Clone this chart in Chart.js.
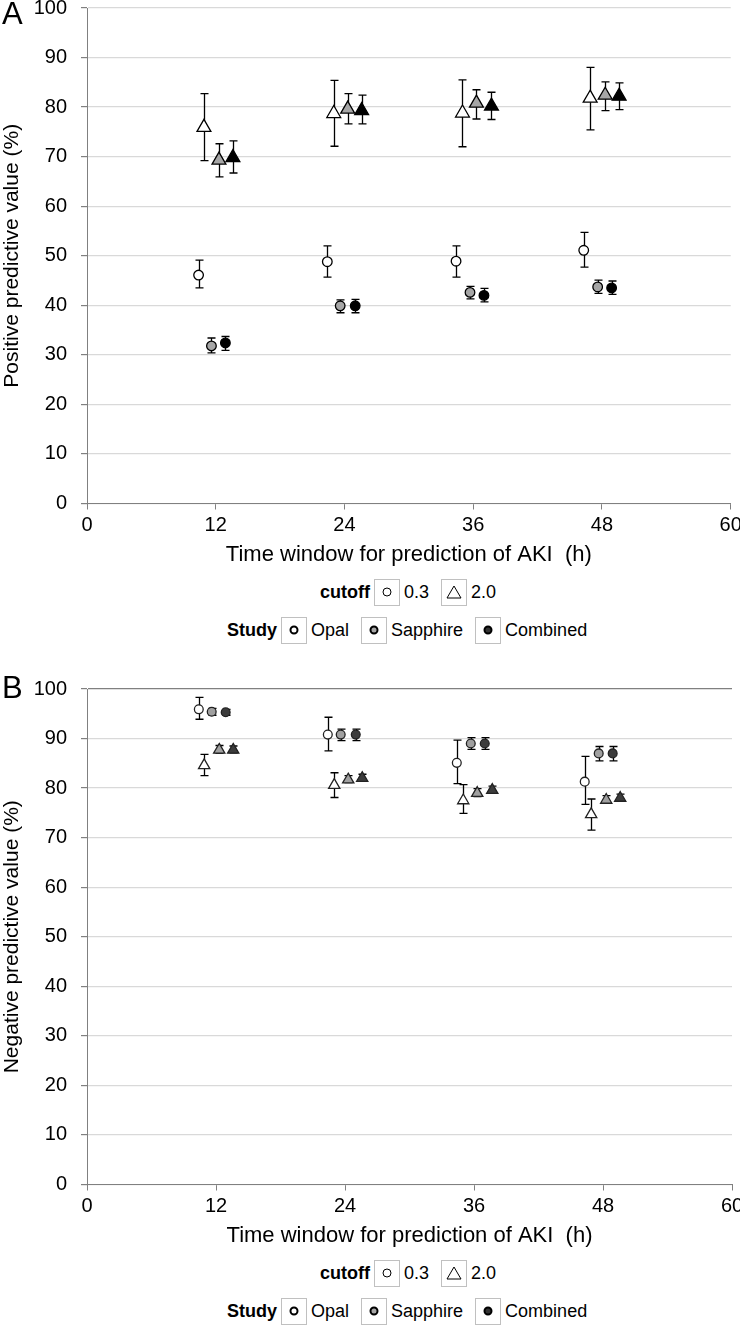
<!DOCTYPE html>
<html>
<head>
<meta charset="utf-8">
<script src="https://cdn.jsdelivr.net/npm/chart.js@4.4.1/dist/chart.umd.min.js"></script>
<style>
  body { margin: 0; background: #fff; font-family: "Liberation Sans", Arial, sans-serif; }
  #wrap { position: relative; width: 740px; height: 1335px; overflow: hidden; }
  canvas { position: absolute; left: 0; }
  .letter { position: absolute; left: 2px; font-size: 31px; color: #000; z-index: 2; }
  .row { position: absolute; height: 26px; display: flex; align-items: center; font-size: 18px; color: #000; }
  .row b { margin-right: 4px; }
  .box { width: 24px; height: 25px; border: 1px solid #c0c0c0; display: flex; align-items: center; justify-content: center; margin-right: 4px; }
  .row span.t { margin-right: 12px; }
</style>
</head>
<body>
<div id="wrap">
  <div class="letter" style="top:-4px">A</div>
  <canvas id="ppv" width="740" height="586" style="top:-11.5px"></canvas>
  <div class="row" style="left:320px;top:579px">
    <b>cutoff</b>
    <div class="box"><svg width="12" height="12"><circle cx="6" cy="6" r="4" fill="#fff" stroke="#000" stroke-width="1"/></svg></div><span class="t">0.3</span>
    <div class="box"><svg width="16" height="14"><polygon points="8,1 15,13 1,13" fill="#fff" stroke="#000" stroke-width="1"/></svg></div><span class="t">2.0</span>
  </div>
  <div class="row" style="left:227px;top:617px">
    <b>Study</b>
    <div class="box"><svg width="12" height="12"><circle cx="6" cy="6" r="3.5" fill="#fff" stroke="#000" stroke-width="2"/></svg></div><span class="t">Opal</span>
    <div class="box"><svg width="12" height="12"><circle cx="6" cy="6" r="3.5" fill="#a6a6a6" stroke="#000" stroke-width="2"/></svg></div><span class="t">Sapphire</span>
    <div class="box"><svg width="12" height="12"><circle cx="6" cy="6" r="3.5" fill="#333" stroke="#000" stroke-width="2"/></svg></div><span class="t">Combined</span>
  </div>

  <div class="letter" style="top:670px">B</div>
  <canvas id="npv" width="740" height="586" style="top:670px"></canvas>
  <div class="row" style="left:320px;top:1260px">
    <b>cutoff</b>
    <div class="box"><svg width="12" height="12"><circle cx="6" cy="6" r="4" fill="#fff" stroke="#000" stroke-width="1"/></svg></div><span class="t">0.3</span>
    <div class="box"><svg width="16" height="14"><polygon points="8,1 15,13 1,13" fill="#fff" stroke="#000" stroke-width="1"/></svg></div><span class="t">2.0</span>
  </div>
  <div class="row" style="left:227px;top:1298px">
    <b>Study</b>
    <div class="box"><svg width="12" height="12"><circle cx="6" cy="6" r="3.5" fill="#fff" stroke="#000" stroke-width="2"/></svg></div><span class="t">Opal</span>
    <div class="box"><svg width="12" height="12"><circle cx="6" cy="6" r="3.5" fill="#a6a6a6" stroke="#000" stroke-width="2"/></svg></div><span class="t">Sapphire</span>
    <div class="box"><svg width="12" height="12"><circle cx="6" cy="6" r="3.5" fill="#333" stroke="#000" stroke-width="2"/></svg></div><span class="t">Combined</span>
  </div>
</div>

<script>
// x positions (h) of the markers, each group is offset a little around 12/24/36/48
var opalCircX      = [10.4, 22.4, 34.4, 46.3];
var sapphireCircX  = [11.6, 23.6, 35.7, 47.6];
var combinedCircX  = [12.9, 25.0, 37.0, 48.9];
var opalTriX       = [10.9, 23.0, 35.0, 46.9];
var sapphireTriX   = [12.3, 24.3, 36.3, 48.3];
var combinedTriX   = [13.6, 25.6, 37.7, 49.6];

// A - positive predictive value (%)
var ppvOpal03      = [46.1, 48.8, 48.9, 51.1];
var ppvOpal03Lo    = [43.5, 45.7, 45.7, 47.7];
var ppvOpal03Hi    = [49.1, 52.0, 52.0, 54.7];
var ppvSapph03     = [31.8, 39.9, 42.6, 43.7];
var ppvSapph03Lo   = [30.4, 38.5, 41.3, 42.4];
var ppvSapph03Hi   = [33.4, 41.1, 43.8, 45.1];
var ppvComb03      = [32.4, 39.9, 42.0, 43.5];
var ppvComb03Lo    = [30.9, 38.5, 40.7, 42.2];
var ppvComb03Hi    = [33.7, 41.2, 43.4, 44.9];
var ppvOpal20      = [75.9, 78.7, 78.8, 81.8];
var ppvOpal20Lo    = [69.2, 72.1, 72.0, 75.4];
var ppvOpal20Hi    = [82.7, 85.4, 85.5, 88.0];
var ppvSapph20     = [69.3, 79.6, 80.8, 82.4];
var ppvSapph20Lo   = [65.9, 76.6, 77.6, 79.3];
var ppvSapph20Hi   = [72.6, 82.7, 83.5, 85.1];
var ppvComb20      = [69.8, 79.3, 80.2, 82.2];
var ppvComb20Lo    = [66.7, 76.6, 77.5, 79.5];
var ppvComb20Hi    = [73.2, 82.4, 83.0, 84.9];

// B - negative predictive value (%)
var npvOpal03      = [95.9, 90.8, 85.1, 81.3];
var npvOpal03Lo    = [93.9, 87.5, 80.9, 76.7];
var npvOpal03Hi    = [98.3, 94.3, 89.7, 86.4];
var npvSapph03     = [95.4, 90.8, 89.0, 87.0];
var npvSapph03Lo   = [94.7, 89.6, 87.8, 85.5];
var npvSapph03Hi   = [96.1, 91.9, 90.2, 88.4];
var npvComb03      = [95.3, 90.8, 89.0, 87.0];
var npvComb03Lo    = [94.7, 89.6, 87.8, 85.5];
var npvComb03Hi    = [95.9, 91.9, 90.2, 88.4];
var npvOpal20      = [84.6, 80.6, 77.5, 74.7];
var npvOpal20Lo    = [82.5, 78.1, 74.9, 71.5];
var npvOpal20Hi    = [86.8, 83.1, 80.7, 77.8];
var npvSapph20     = [87.7, 81.7, 79.0, 77.6];
var npvSapph20Lo   = [87.0, 81.1, 78.3, 76.9];
var npvSapph20Hi   = [88.6, 82.5, 79.9, 78.5];
var npvComb20      = [87.7, 82.0, 79.6, 78.0];
var npvComb20Lo    = [87.1, 81.4, 79.0, 77.4];
var npvComb20Hi    = [88.5, 82.8, 80.4, 78.8];

var xTicks = [0, 12, 24, 36, 48, 60];

// pack x, y and the error limits together for the scatter datasets
function pts(xs, ys, lo, hi) {
  return xs.map(function(x, i) { return {x: x, y: ys[i], lo: lo[i], hi: hi[i]}; });
}

// draws the error bars under the markers
var errorBars = {
  id: 'errorBars',
  beforeDatasetsDraw: function(chart) {
    var ctx = chart.ctx, x = chart.scales.x, y = chart.scales.y;
    ctx.save();
    ctx.strokeStyle = '#000';
    ctx.lineWidth = 1.3;
    chart.data.datasets.forEach(function(ds) {
      ds.data.forEach(function(p) {
        var px = Math.round(x.getPixelForValue(p.x)) + 0.5;
        var t = y.getPixelForValue(p.hi), b = y.getPixelForValue(p.lo);
        ctx.beginPath();
        ctx.moveTo(px, t); ctx.lineTo(px, b);
        ctx.moveTo(px - 4, t); ctx.lineTo(px + 4, t);
        ctx.moveTo(px - 4, b); ctx.lineTo(px + 4, b);
        ctx.stroke();
      });
    });
    ctx.restore();
  }
};

Chart.defaults.font.family = '"Liberation Sans", Arial, sans-serif';
Chart.defaults.color = '#000';

function makeChart(id, yTitle, sets, style) {
  return new Chart(document.getElementById(id), {
    type: 'scatter',
    data: {
      datasets: sets.map(function(s) {
        return {
          data: s.data,
          pointStyle: s.tri ? 'triangle' : 'circle',
          pointRadius: s.tri ? style.triR : style.circR,
          pointHoverRadius: s.tri ? style.triR : style.circR,
          backgroundColor: s.fill,
          borderColor: style.edge,
          pointBorderWidth: 1.3,
          borderWidth: 1.3
        };
      })
    },
    options: {
      responsive: false,
      animation: false,
      events: [],
      layout: { padding: { top: 19, right: 8, left: 0, bottom: 0 } },
      plugins: { legend: { display: false }, tooltip: { enabled: false } },
      scales: {
        x: {
          type: 'linear', min: 0, max: 60,
          afterBuildTicks: function(s) { s.ticks = xTicks.map(function(v) { return {value: v}; }); },
          afterFit: function(s) { s.height = 71.5; s.paddingLeft = 0; s.paddingRight = 0; },
          ticks: { font: { size: 20 }, padding: 4, maxRotation: 0 },
          grid: { drawOnChartArea: false, tickLength: 6, tickColor: '#808080' },
          border: { color: '#808080', width: 1 },
          title: { display: true, text: 'Time window for prediction of AKI  (h)', font: { size: 22 }, padding: { top: 0, bottom: 7 } }
        },
        y: {
          min: 0, max: 100,
          afterFit: function(s) { s.width = 87; s.paddingTop = 0; s.paddingBottom = 0; },
          ticks: { stepSize: 10, font: { size: 20 }, padding: 14 },
          grid: {
            color: function(c) { return (c.tick && c.tick.value === 100 && style.topDark) ? '#808080' : '#d9d9d9'; },
            lineWidth: 1.2,
            tickLength: 6, tickColor: '#808080'
          },
          border: { color: '#808080', width: 1 },
          title: { display: true, text: yTitle, font: { size: 21 }, padding: 0 }
        }
      }
    },
    plugins: [errorBars]
  });
}

makeChart('ppv', 'Positive predictive value (%)', [
  { data: pts(opalCircX, ppvOpal03, ppvOpal03Lo, ppvOpal03Hi), fill: '#fff' },
  { data: pts(sapphireCircX, ppvSapph03, ppvSapph03Lo, ppvSapph03Hi), fill: '#a6a6a6' },
  { data: pts(combinedCircX, ppvComb03, ppvComb03Lo, ppvComb03Hi), fill: '#000' },
  { data: pts(opalTriX, ppvOpal20, ppvOpal20Lo, ppvOpal20Hi), fill: '#fff', tri: true },
  { data: pts(sapphireTriX, ppvSapph20, ppvSapph20Lo, ppvSapph20Hi), fill: '#a6a6a6', tri: true },
  { data: pts(combinedTriX, ppvComb20, ppvComb20Lo, ppvComb20Hi), fill: '#000', tri: true }
], { circR: 4.8, triR: 8, edge: '#000', topDark: false });

makeChart('npv', 'Negative predictive value (%)', [
  { data: pts(opalCircX, npvOpal03, npvOpal03Lo, npvOpal03Hi), fill: '#fff' },
  { data: pts(sapphireCircX, npvSapph03, npvSapph03Lo, npvSapph03Hi), fill: '#a0a0a0' },
  { data: pts(combinedCircX, npvComb03, npvComb03Lo, npvComb03Hi), fill: '#3c3c3c' },
  { data: pts(opalTriX, npvOpal20, npvOpal20Lo, npvOpal20Hi), fill: '#fff', tri: true },
  { data: pts(sapphireTriX, npvSapph20, npvSapph20Lo, npvSapph20Hi), fill: '#a0a0a0', tri: true },
  { data: pts(combinedTriX, npvComb20, npvComb20Lo, npvComb20Hi), fill: '#3c3c3c', tri: true }
], { circR: 4.4, triR: 6.5, edge: '#222', topDark: true });
</script>
</body>
</html>
